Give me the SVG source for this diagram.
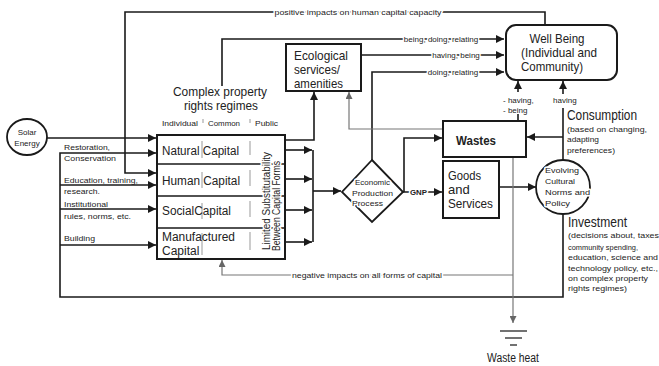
<svg xmlns="http://www.w3.org/2000/svg" width="659" height="366" viewBox="0 0 659 366">
<defs>
<marker id="a" viewBox="0 0 10 10" refX="10" refY="5" markerWidth="9" markerHeight="8" markerUnits="userSpaceOnUse" orient="auto"><path d="M0,0 L10,5 L0,10 z" fill="#1a1a1a"/></marker>
<marker id="g" viewBox="0 0 10 10" refX="10" refY="5" markerWidth="8" markerHeight="7" markerUnits="userSpaceOnUse" orient="auto"><path d="M0,0 L10,5 L0,10 z" fill="#666"/></marker>
</defs>
<style>
text{font-family:"Liberation Sans",Arial,sans-serif;fill:#222}
.s8{font-size:8px}.s9{font-size:9px}.s10{font-size:10px}.s12{font-size:12px}.s13{font-size:13px}.s14{font-size:14px}
.b{font-weight:bold}
.h{paint-order:stroke;stroke:#fff;stroke-width:3px;stroke-linejoin:round}
.ln{fill:none;stroke:#1a1a1a;stroke-width:1.6}
.gl{fill:none;stroke:#777;stroke-width:1.2}
.box{fill:#fff;stroke:#1a1a1a;stroke-width:2}
.sep{stroke:#999;stroke-width:1}
</style>
<rect width="659" height="366" fill="#fff"/>
<g id="connectors">
<path class="ln" d="M545,25 V12 H125 V173 H156" marker-end="url(#a)"/>
<path class="ln" d="M222,86 V39 H504" marker-end="url(#a)"/>
<path class="ln" d="M361,55 H504" marker-end="url(#a)"/>
<path class="ln" d="M372,160 V72 H504" marker-end="url(#a)"/>
<path class="ln" d="M285,140 H314 V92" marker-end="url(#a)"/>
<path class="ln" d="M47,138 H156" marker-end="url(#a)"/>
<path class="ln" d="M563,214 V297 H60 V153 H156" marker-end="url(#a)"/>
<path class="ln" d="M60,185 H156" marker-end="url(#a)"/>
<path class="ln" d="M60,209 H156" marker-end="url(#a)"/>
<path class="ln" d="M60,245 H156" marker-end="url(#a)"/>
<path class="ln" d="M286,150 H312" marker-end="url(#a)"/>
<path class="ln" d="M286,179 H312" marker-end="url(#a)"/>
<path class="ln" d="M286,210 H312" marker-end="url(#a)"/>
<path class="ln" d="M286,242 H312" marker-end="url(#a)"/>
<path class="ln" d="M313,150 V242"/>
<path class="ln" d="M313,191 H341" marker-end="url(#a)"/>
<path class="ln" d="M403,192 H442" marker-end="url(#a)"/>
<path class="ln" d="M404,192 V138 H442" marker-end="url(#a)"/>
<path class="ln" d="M499,187 H536" marker-end="url(#a)"/>
<path class="ln" d="M563,160 V108"/>
<path class="ln" d="M563,94 V81" marker-end="url(#a)"/>
<path class="ln" d="M563,137 H527" marker-end="url(#a)"/>
<path class="ln" d="M518,121 V114"/>
<path class="ln" d="M518,92 V81" marker-end="url(#a)"/>
<path class="gl" d="M442,129 H349 V92" marker-end="url(#g)"/>
<path class="gl" d="M513,158 V323" marker-end="url(#g)"/>
<path class="gl" d="M513,275 H222 V260" marker-end="url(#g)"/>
<text class="s8 h" x="358" y="14.5" text-anchor="middle" textLength="167" lengthAdjust="spacingAndGlyphs">positive impacts on human capital capacity</text>
<text class="s8 h" x="441" y="41.5" text-anchor="middle">being, doing, relating</text>
<text class="s8 h" x="456" y="57.5" text-anchor="middle">having, being</text>
<text class="s8 h" x="453" y="75" text-anchor="middle">doing, relating</text>
<text class="s8 h" x="367" y="277.5" text-anchor="middle" textLength="150" lengthAdjust="spacingAndGlyphs">negative impacts on all forms of capital</text>
<text class="s8 b h" x="410" y="195" textLength="17" lengthAdjust="spacingAndGlyphs">GNP</text>
<text class="s8" x="503" y="103">- having,</text>
<text class="s8" x="503" y="113">- being</text>
<text class="s8" x="553" y="103">having</text>
<text class="s8" x="64" y="150" textLength="46" lengthAdjust="spacingAndGlyphs">Restoration,</text>
<text class="s8" x="64" y="161" textLength="52" lengthAdjust="spacingAndGlyphs">Conservation</text>
<text class="s8" x="64" y="183" textLength="74" lengthAdjust="spacingAndGlyphs">Education, training,</text>
<text class="s8" x="64" y="194" textLength="36" lengthAdjust="spacingAndGlyphs">research.</text>
<text class="s8" x="64" y="207" textLength="44" lengthAdjust="spacingAndGlyphs">Institutional</text>
<text class="s8" x="64" y="219" textLength="67" lengthAdjust="spacingAndGlyphs">rules, norms, etc.</text>
<text class="s8" x="64" y="241" textLength="31" lengthAdjust="spacingAndGlyphs">Building</text>
</g>
<g id="solar">
<ellipse cx="27" cy="137" rx="20" ry="18" fill="#fff" stroke="#1a1a1a" stroke-width="1.8"/>
<text class="s8" x="27" y="135" text-anchor="middle">Solar</text>
<text class="s8" x="27" y="146" text-anchor="middle">Energy</text>
</g>
<g id="property">
<text class="s13" x="220" y="96" text-anchor="middle" textLength="94" lengthAdjust="spacingAndGlyphs">Complex property</text>
<text class="s13" x="221" y="110" text-anchor="middle" textLength="74" lengthAdjust="spacingAndGlyphs">rights regimes</text>
<text class="s8" x="162" y="126" textLength="36" lengthAdjust="spacingAndGlyphs">Individual</text>
<text class="s8" x="208" y="126" textLength="32" lengthAdjust="spacingAndGlyphs">Common</text>
<text class="s8" x="255" y="126" textLength="23" lengthAdjust="spacingAndGlyphs">Public</text>
<path class="sep" d="M203,119 V123 M250,119 V123"/>
</g>
<g id="capital">
<rect class="box" x="157" y="135" width="128" height="124"/>
<path class="ln" d="M157,164 H285 M157,196 H285 M157,228 H285"/>
<path class="sep" d="M202,141 V158 M202,172 V188 M202,203 V219 M202,233 V255 M250,141 V155 M250,170 V186 M250,201 V217 M250,232 V250"/>
<text class="s12" x="162" y="155" textLength="77" lengthAdjust="spacingAndGlyphs">Natural Capital</text>
<text class="s12" x="162" y="185" textLength="78" lengthAdjust="spacingAndGlyphs">Human Capital</text>
<text class="s12" x="162" y="215" textLength="69" lengthAdjust="spacingAndGlyphs">SocialCapital</text>
<text class="s12" x="162" y="241" textLength="73" lengthAdjust="spacingAndGlyphs">Manufactured</text>
<text class="s12" x="162" y="255">Capital</text>
<text class="s10 h" transform="translate(269.5,250) rotate(-90)" textLength="98" lengthAdjust="spacingAndGlyphs">Limited Substitutability</text>
<text class="s10 h" transform="translate(279.5,251) rotate(-90)" textLength="90" lengthAdjust="spacingAndGlyphs">Between Capital Forms</text>
</g>
<g id="ecological">
<rect class="box" x="286" y="44" width="75" height="47"/>
<text class="s13" x="294" y="60" textLength="54" lengthAdjust="spacingAndGlyphs">Ecological</text>
<text class="s13" x="294" y="74" textLength="46" lengthAdjust="spacingAndGlyphs">services/</text>
<text class="s13" x="294" y="88" textLength="49" lengthAdjust="spacingAndGlyphs">amenities</text>
</g>
<g id="wellbeing">
<rect class="box" x="506" y="25" width="111" height="55" rx="10"/>
<text class="s13" x="557" y="43" text-anchor="middle" textLength="55" lengthAdjust="spacingAndGlyphs">Well Being</text>
<text class="s13" x="521" y="57" textLength="76" lengthAdjust="spacingAndGlyphs">(Individual and</text>
<text class="s13" x="521" y="71" textLength="62" lengthAdjust="spacingAndGlyphs">Community)</text>
</g>
<g id="diamond">
<path d="M372,160 L403,192 L372,222 L342,192 Z" fill="#fff" stroke="#1a1a1a" stroke-width="1.8"/>
<text class="s8 h" x="355" y="185" textLength="35" lengthAdjust="spacingAndGlyphs">Economic</text>
<text class="s8 h" x="352" y="196" textLength="41" lengthAdjust="spacingAndGlyphs">Production</text>
<text class="s8 h" x="352" y="206" textLength="31" lengthAdjust="spacingAndGlyphs">Process</text>
</g>
<g id="wastes">
<rect class="box" x="443" y="121" width="83" height="36"/>
<text class="s13 b" x="456" y="145" textLength="40" lengthAdjust="spacingAndGlyphs">Wastes</text>
</g>
<g id="goods">
<rect class="box" x="443" y="161" width="56" height="57"/>
<text class="s13" x="448" y="180" textLength="33" lengthAdjust="spacingAndGlyphs">Goods</text>
<text class="s13" x="448" y="194">and</text>
<text class="s13" x="448" y="208" textLength="45" lengthAdjust="spacingAndGlyphs">Services</text>
</g>
<g id="norms">
<circle cx="563" cy="187" r="27" fill="#fff" stroke="#1a1a1a" stroke-width="1.8"/>
<text class="s8 h" x="545" y="173" textLength="34" lengthAdjust="spacingAndGlyphs">Evolving</text>
<text class="s8 h" x="545" y="184" textLength="30" lengthAdjust="spacingAndGlyphs">Cultural</text>
<text class="s8 h" x="545" y="195" textLength="45" lengthAdjust="spacingAndGlyphs">Norms and</text>
<text class="s8 h" x="545" y="206" textLength="25" lengthAdjust="spacingAndGlyphs">Policy</text>
</g>
<g id="consumption">
<text class="s14" x="567" y="120" textLength="70" lengthAdjust="spacingAndGlyphs">Consumption</text>
<text class="s8" x="567" y="132" textLength="80" lengthAdjust="spacingAndGlyphs">(based on changing,</text>
<text class="s8" x="567" y="142" textLength="32" lengthAdjust="spacingAndGlyphs">adapting</text>
<text class="s8" x="567" y="153" textLength="48" lengthAdjust="spacingAndGlyphs">preferences)</text>
</g>
<g id="investment">
<text class="s14" x="568" y="227" textLength="59" lengthAdjust="spacingAndGlyphs">Investment</text>
<text class="s8" x="568" y="238" textLength="91" lengthAdjust="spacingAndGlyphs">(decisions about, taxes</text>
<text class="s8" x="568" y="250" textLength="70" lengthAdjust="spacingAndGlyphs">community spending,</text>
<text class="s8" x="568" y="260" textLength="90" lengthAdjust="spacingAndGlyphs">education, science and</text>
<text class="s8" x="568" y="271" textLength="90" lengthAdjust="spacingAndGlyphs">technology  policy, etc.,</text>
<text class="s8" x="568" y="281" textLength="80" lengthAdjust="spacingAndGlyphs">on complex property</text>
<text class="s8" x="568" y="291" textLength="59" lengthAdjust="spacingAndGlyphs">rights regimes)</text>
</g>
<g id="wasteheat">
<path d="M500,331 H527 M505,338 H522 M510,345 H517" stroke="#444" stroke-width="1.6" fill="none"/>
<text class="s12" x="513" y="362" text-anchor="middle" textLength="52" lengthAdjust="spacingAndGlyphs">Waste heat</text>
</g>
</svg>
